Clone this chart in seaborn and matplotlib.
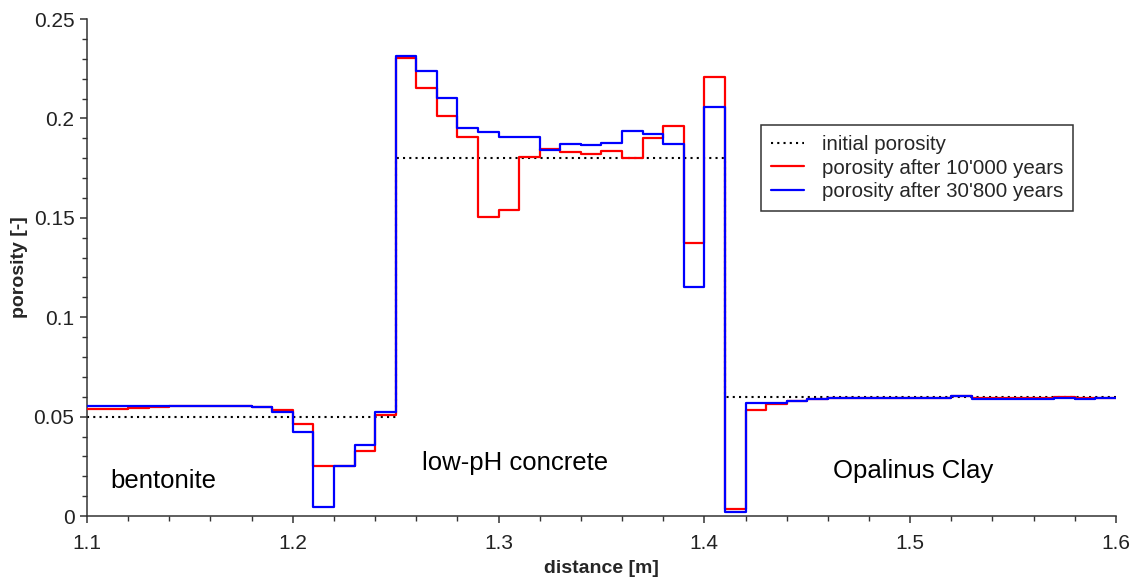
import numpy as np
import pandas as pd
import matplotlib
matplotlib.use("Agg")
import matplotlib.pyplot as plt
import seaborn as sns

# Cell grid along the profile (cell left edges, 1 cm cells)
cell_left = np.round(np.arange(1.10, 1.60, 0.01), 2)
x_end = 1.60

# Initial porosity per cell: bentonite | low-pH concrete | Opalinus Clay
porosity_initial = [0.05] * 15 + [0.18] * 16 + [0.06] * 19

porosity_10000 = [
    0.0540, 0.0540, 0.0545, 0.0550, 0.0551, 0.0551, 0.0551, 0.0551, 0.0547, 0.0533,
    0.0465, 0.0250, 0.0252, 0.0327, 0.0510, 0.2305, 0.2151, 0.2012, 0.1905, 0.1502,
    0.1539, 0.1807, 0.1845, 0.1833, 0.1821, 0.1836, 0.1799, 0.1900, 0.1963, 0.1375,
    0.2207, 0.0037, 0.0533, 0.0562, 0.0578, 0.0589, 0.0593, 0.0593, 0.0593, 0.0593,
    0.0593, 0.0593, 0.0603, 0.0592, 0.0592, 0.0592, 0.0592, 0.0600, 0.0594, 0.0594,
]

porosity_30800 = [
    0.0553, 0.0553, 0.0553, 0.0553, 0.0553, 0.0553, 0.0553, 0.0553, 0.0547, 0.0522,
    0.0424, 0.0044, 0.0252, 0.0355, 0.0523, 0.2315, 0.2238, 0.2101, 0.1950, 0.1930,
    0.1905, 0.1908, 0.1841, 0.1873, 0.1865, 0.1875, 0.1935, 0.1922, 0.1871, 0.1154,
    0.2059, 0.0020, 0.0567, 0.0570, 0.0578, 0.0589, 0.0594, 0.0594, 0.0594, 0.0594,
    0.0594, 0.0594, 0.0603, 0.0590, 0.0590, 0.0590, 0.0590, 0.0594, 0.0588, 0.0594,
]

series_labels = ["initial porosity", "porosity after 10'000 years", "porosity after 30'800 years"]
zone_labels = ["bentonite", "low-pH concrete", "Opalinus Clay"]
zone_x = [1.137, 1.308, 1.5015]
zone_y = [0.0175, 0.0265, 0.0225]


def step_frame(values):
    # repeat the last cell value at the right boundary for a post-step line
    x = np.append(cell_left, x_end)
    y = np.append(values, values[-1])
    return pd.DataFrame({"distance": x, "porosity": y})


sns.set_theme(style="ticks")
plt.rcParams["font.family"] = ["Liberation Sans", "DejaVu Sans"]

fig = plt.figure(figsize=(11.37, 5.80), dpi=100)
ax = fig.add_axes([0.0765, 0.1103, 0.9050, 0.8569])

sns.lineplot(data=step_frame(porosity_initial), x="distance", y="porosity", ax=ax,
             estimator=None, drawstyle="steps-post", color="black",
             linewidth=1.5, label=series_labels[0], zorder=2)
ax.lines[-1].set_linestyle((0, (1, 2)))
sns.lineplot(data=step_frame(porosity_10000), x="distance", y="porosity", ax=ax,
             estimator=None, drawstyle="steps-post", color="#ff0000",
             linewidth=1.6, label=series_labels[1], zorder=3)
sns.lineplot(data=step_frame(porosity_30800), x="distance", y="porosity", ax=ax,
             estimator=None, drawstyle="steps-post", color="#0000ff",
             linewidth=1.6, label=series_labels[2], zorder=4)

for name, xx, yy in zip(zone_labels, zone_x, zone_y):
    ax.text(xx, yy, name, fontsize=18.5, ha="center", va="center", color="black")

ax.set_xlim(1.1, 1.6)
ax.set_ylim(0, 0.25)
ax.set_xticks([1.1, 1.2, 1.3, 1.4, 1.5, 1.6])
ax.set_xticklabels(["1.1", "1.2", "1.3", "1.4", "1.5", "1.6"])
ax.set_xticks(np.round(np.arange(1.1, 1.6001, 0.02), 2), minor=True)
ax.set_yticks([0, 0.05, 0.1, 0.15, 0.2, 0.25])
ax.set_yticklabels(["0", "0.05", "0.1", "0.15", "0.2", "0.25"])
ax.set_yticks(np.round(np.arange(0, 0.2501, 0.01), 2), minor=True)

ax.tick_params(axis="both", which="major", direction="out", length=5, width=1.1,
               labelsize=15, colors="#333333", labelcolor="#222222", pad=4)
ax.tick_params(axis="x", which="major", pad=8)
ax.tick_params(axis="both", which="minor", direction="out", length=3.5, width=1.0,
               colors="#333333")

ax.set_xlabel("distance [m]", fontsize=14, fontweight="bold", labelpad=5)
ax.set_ylabel("porosity [-]", fontsize=14, fontweight="bold", labelpad=4)

sns.despine(ax=ax)
for side in ("left", "bottom"):
    ax.spines[side].set_color("#333333")
    ax.spines[side].set_linewidth(1.1)

leg = ax.legend(loc="upper left", bbox_to_anchor=(0.655, 0.787), borderaxespad=0,
                fontsize=14.8, frameon=True, fancybox=False, handlelength=1.6,
                handletextpad=0.85, labelspacing=0.22, borderpad=0.5)
leg.get_frame().set_edgecolor("#333333")
leg.get_frame().set_linewidth(1.1)
leg.get_frame().set_alpha(1)

fig.savefig("out.png", dpi=100)
